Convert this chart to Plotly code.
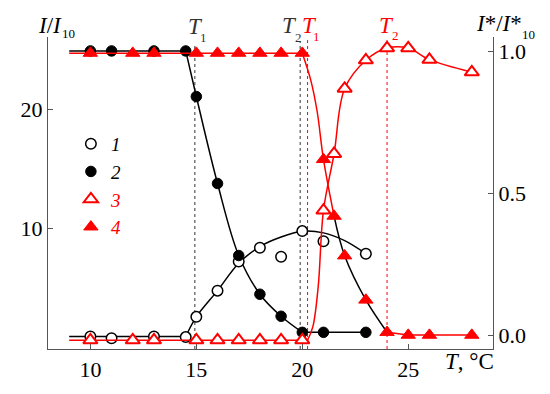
import plotly.graph_objects as go

# ---------------- data ----------------
T_circ = [10, 11, 13, 14.5, 15, 16, 17, 18, 19, 20, 21, 23]
I_open = [0.95, 0.8, 0.95, 0.9, 2.6, 4.8, 7.25, 8.4, 7.65, 9.8, 8.95, 7.9]          # 1
I_fill = [24.93, 24.93, 24.93, 24.93, 21.1, 13.8, 7.75, 4.5, 2.65, 1.3, 1.3, 1.3]   # 2

T_tri = [10, 12, 13, 15, 16, 17, 18, 19, 20, 21, 21.5, 22, 23, 24, 25, 26, 28]
S_open = [-0.018, -0.018, -0.018, -0.018, -0.018, -0.018, -0.018, -0.018, -0.018,
          0.44, 0.64, 0.87, 0.97, 1.013, 1.013, 0.972, 0.928]                        # 3
S_fill = [0.995, 0.995, 0.995, 0.995, 0.995, 0.995, 0.995, 0.995, 0.995,
          0.62, 0.42, 0.28, 0.124, 0.01, 0.0, 0.0, 0.0]                              # 4

# fitted guide curves
fit1_flat_T = [9, 14.5]
fit1_flat_v = [0.95, 0.95]
fit1_T = [14.5, 15, 16, 17, 18, 19, 20, 21, 22, 23]
fit1_v = [0.95, 2.6, 4.8, 7.1, 8.5, 9.3, 9.78, 9.65, 9.0, 7.9]

fit2_flat_T = [9, 14.5]
fit2_flat_v = [24.93, 24.93]
fit2_T = [14.5, 15, 16, 17, 18, 19, 20]
fit2_v = [24.93, 21.1, 13.8, 7.75, 4.5, 2.65, 1.3]
fit2_tail_T = [20, 23]
fit2_tail_v = [1.3, 1.3]

fit3_flat_T = [9, 20.25]
fit3_flat_v = [-0.018, -0.018]
fit3_T = [20.25, 20.5, 20.75, 21, 21.5, 22, 23, 24, 25, 26, 28]
fit3_v = [-0.018, 0.03, 0.17, 0.44, 0.64, 0.87, 0.97, 1.013, 1.013, 0.972, 0.928]

fit4_flat_T = [9, 20]
fit4_flat_v = [0.995, 0.995]
fit4_T = [20, 20.4, 20.7, 21, 21.5]
fit4_v = [0.995, 0.9, 0.79, 0.62, 0.42]
fit4_black_T = [21.5, 22, 23, 24]
fit4_black_v = [0.42, 0.28, 0.124, 0.01]
fit4_tail_T = [24, 25, 26, 28]
fit4_tail_v = [0.01, 0.0, 0.0, 0.0]

# transition temperatures (dotted verticals) and their labels
trans_T = [14.93, 19.9, 20.25, 24.0]
trans_color = ["#333333", "#333333", "#ff0000", "#ff0000"]
trans_sub = ["1", "2", "1", "2"]

x_ticks = [10, 15, 20, 25]
y_ticks = [10, 20]
y2_ticks = [0, 0.5, 1.0]
y2_ticktext = ["0.0", "0.5", "1.0"]

# ---------------- figure ----------------
FONT = "Liberation Serif"
RED = "#ff0000"
BLACK = "#000000"

fig = go.Figure()

def line(x, y, color, axis="y", shape="linear"):
    fig.add_trace(go.Scatter(x=x, y=y, mode="lines", yaxis=axis, showlegend=False,
                             line=dict(color=color, width=1.5, shape=shape, smoothing=1),
                             hoverinfo="skip"))

line(fit1_flat_T, fit1_flat_v, BLACK)
line(fit1_T, fit1_v, BLACK, shape="spline")
line(fit2_flat_T, fit2_flat_v, BLACK)
line(fit2_T, fit2_v, BLACK, shape="spline")
line(fit2_tail_T, fit2_tail_v, BLACK)
line(fit3_flat_T, fit3_flat_v, RED, "y2")
line(fit3_T, fit3_v, RED, "y2", "spline")
line(fit4_flat_T, fit4_flat_v, RED, "y2")
line(fit4_T, fit4_v, RED, "y2", "spline")
line(fit4_black_T, fit4_black_v, BLACK, "y2", "spline")
line(fit4_tail_T, fit4_tail_v, RED, "y2")

fig.add_trace(go.Scatter(x=T_circ, y=I_open, mode="markers", name="<i>1</i>",
                         marker=dict(symbol="circle", size=10.5, color="white",
                                     line=dict(color=BLACK, width=1.5))))
fig.add_trace(go.Scatter(x=T_circ, y=I_fill, mode="markers", name="<i>2</i>",
                         marker=dict(symbol="circle", size=10.5, color=BLACK,
                                     line=dict(color=BLACK, width=1))))
fig.add_trace(go.Scatter(x=T_tri, y=S_open, mode="markers", yaxis="y2",
                         name="<i><span style='color:#ff0000'>3</span></i>",
                         marker=dict(symbol="triangle-up", size=12.5, color="white",
                                     line=dict(color=RED, width=2))))
fig.add_trace(go.Scatter(x=T_tri, y=S_fill, mode="markers", yaxis="y2",
                         name="<i><span style='color:#ff0000'>4</span></i>",
                         marker=dict(symbol="triangle-up", size=12.5, color=RED,
                                     line=dict(color=RED, width=1))))

# geometry: the page has an 8px body margin, so the figure is shrunk by 8px and
# all target positions below are given in page pixels.
OFF = 8
PL, PR, PT, PB = 46, 493, 37, 353          # plot area on the page
W, H = 550 - OFF, 394 - OFF
def px(xp):
    return (xp - PL) / (PR - PL)
def py(yp):
    return (PB - yp) / (PB - PT)

def note(text, x, y, size, color=BLACK, xa="center"):
    return dict(text=text, xref="paper", yref="paper", x=px(x), y=py(y),
                xanchor=xa, yanchor="middle", showarrow=False,
                font=dict(family=FONT, size=size, color=color))

tops = [0.975, 0.985, 0.99, 0.99]
T_centers = [194, 288.5, 308.5, 386.5]
T_ys = [26, 25, 25, 25]
sub_pos = [(202.5, 38), (297.5, 37), (315.5, 36), (395, 35)]
shapes = []
annotations = []
for tv, c, top, s, tx, ty, sp in zip(trans_T, trans_color, tops, trans_sub,
                                     T_centers, T_ys, sub_pos):
    shapes.append(dict(type="line", xref="x", yref="paper", x0=tv, x1=tv, y0=0, y1=top,
                       line=dict(color=c, width=1, dash="dot"), layer="below"))
    annotations.append(note("<i>T</i>", tx, ty, 23, c))
    annotations.append(note(s, sp[0], sp[1], 13, c))

annotations += [
    note("<i>I</i>/<i>I</i>", 48.5, 25, 23),
    note("10", 66.5, 33, 13),
    note("<i>I</i>*/<i>I</i>*", 499, 23.5, 23),
    note("10", 529, 34, 13),
    note("<i>T</i>, °C", 469.5, 366, 23),
]

axis_common = dict(showgrid=False, zeroline=False, showline=True, linecolor="#555555",
                   linewidth=1.2, ticks="inside", tickcolor="#555555", ticklen=5,
                   tickfont=dict(family=FONT, size=22, color=BLACK))

fig.update_layout(
    width=W, height=H,
    margin=dict(l=PL - OFF, r=550 - PR, t=PT - OFF, b=394 - PB),
    paper_bgcolor="white", plot_bgcolor="white",
    xaxis=dict(range=[8, 29], tickvals=x_ticks, **axis_common),
    yaxis=dict(range=[-0.1, 26.1], tickvals=y_ticks, **axis_common),
    yaxis2=dict(range=[-0.049, 1.052], tickvals=y2_ticks, ticktext=y2_ticktext,
                overlaying="y", side="right", **axis_common),
    shapes=shapes,
    annotations=annotations,
    showlegend=True,
    legend=dict(x=px(69), y=py(126), xanchor="left", yanchor="top",
                bgcolor="rgba(0,0,0,0)", font=dict(family=FONT, size=19, color=BLACK),
                itemwidth=30, tracegroupgap=0),
    font=dict(family=FONT),
)

fig.write_html("out.html")
